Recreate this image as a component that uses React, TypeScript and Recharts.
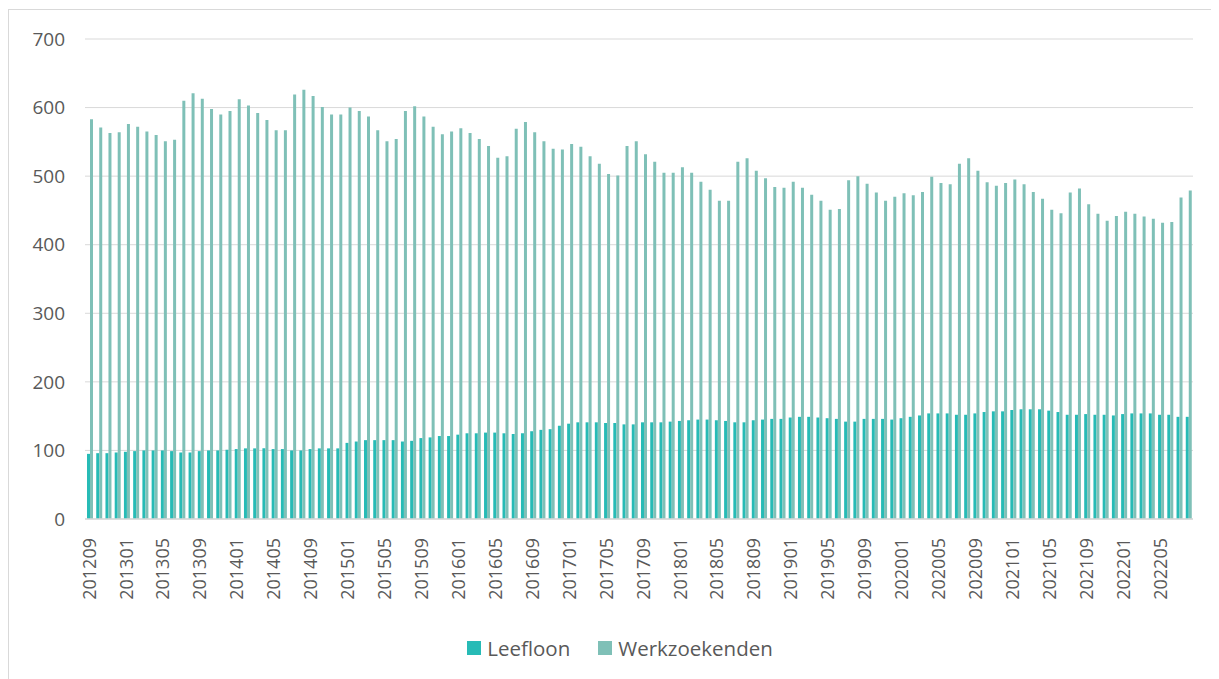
import React from 'react';
import { BarChart, Bar, XAxis, YAxis, CartesianGrid, Legend } from 'recharts';

// maanden 201209 .. 202208
const months: string[] = [];
for (let y = 2012; y <= 2022; y++) {
  for (let m = 1; m <= 12; m++) {
    const key = y * 100 + m;
    if (key >= 201209 && key <= 202208) months.push(String(key));
  }
}

const leefloon = [
  95, 96, 96, 97, 98, 99, 100, 100, 100, 99, 97, 97, 99, 100, 100, 101, 102, 103, 103, 103, 102, 102, 100, 100, 102, 103, 103, 103, 111, 113,
  115, 115, 115, 115, 113, 114, 118, 119, 121, 121, 123, 125, 125, 126, 126, 125, 124, 125, 128, 130, 131, 136, 139, 141, 141, 141, 140, 140, 138,
  138, 141, 141, 141, 142, 143, 144, 145, 145, 144, 143, 141, 141, 144, 145, 146, 146, 148, 149, 149, 148, 147, 146, 142, 142, 146, 146, 146, 145, 147,
  149, 151, 154, 154, 154, 152, 152, 154, 156, 157, 157, 159, 160, 160, 160, 158, 156, 152, 152, 153, 152, 152, 151, 153, 154, 154, 154, 152, 152, 149, 149,
];

const werkzoekenden = [
  583, 571, 563, 564, 576, 572, 565, 560, 551, 553, 610, 621, 613, 598, 590, 595, 612, 603, 592, 582, 567, 567, 619, 626, 617, 601, 590, 590, 600, 595,
  587, 567, 551, 554, 595, 602, 587, 572, 561, 565, 570, 563, 554, 544, 527, 529, 569, 579, 564, 551, 540, 539, 547, 543, 529, 518, 503, 501, 544,
  551, 532, 521, 505, 505, 513, 505, 492, 480, 464, 464, 521, 526, 508, 497, 484, 483, 492, 483, 473, 464, 451, 452, 494, 500, 489, 476, 464, 470,
  475, 472, 477, 499, 490, 488, 518, 526, 508, 491, 486, 490, 495, 488, 477, 467, 451, 446, 476, 482, 459, 445, 435, 442, 448, 445, 441, 438, 432, 433, 469, 479,
];

const yTicks = [0, 100, 200, 300, 400, 500, 600, 700];

const data = months.map((m, i) => ({ maand: m, Leefloon: leefloon[i], Werkzoekenden: werkzoekenden[i] }));

const FONT = '"Open Sans", Lato, sans-serif';
const TEXT = '#595959';
const C_LEEF = '#27bbb6';
const C_WERK = '#7fc0b7';

const MonthTick = (props: any) => {
  const { x, y, payload } = props;
  return (
    <text
      transform={`translate(${x + 6},${y + 11}) rotate(-90)`}
      textAnchor="end"
      fill={TEXT}
      fontSize={18}
      fontFamily={FONT}
    >
      {payload.value}
    </text>
  );
};

const LegendContent = () => (
  <div style={{ display: 'flex', justifyContent: 'center', fontFamily: FONT, fontSize: 20.5, color: TEXT }}>
    {[
      ['Leefloon', C_LEEF],
      ['Werkzoekenden', C_WERK],
    ].map(([name, c], i) => (
      <div key={name} style={{ display: 'flex', alignItems: 'center', marginRight: i === 0 ? 28 : 0 }}>
        <span style={{ width: 14, height: 14, background: c, display: 'inline-block', marginRight: 6 }} />
        <span>{name}</span>
      </div>
    ))}
  </div>
);

export default function App() {
  return (
    <div
      style={{
        width: 1211,
        height: 671,
        borderTop: '1px solid #d9d9d9',
        borderLeft: '1px solid #d9d9d9',
        boxSizing: 'border-box',
        marginTop: 1,
      }}
    >
      <BarChart
        width={1210}
        height={670}
        data={data}
        margin={{ top: 29, right: 26, bottom: 80, left: 0 }}
        barGap={0}
        barSize={3}
      >
        <CartesianGrid vertical={false} stroke="#d9d9d9" />
        <XAxis
          dataKey="maand"
          interval={3}
          tick={<MonthTick />}
          tickLine={false}
          axisLine={{ stroke: '#d9d9d9', strokeWidth: 1.5 }}
          height={81}
        />
        <YAxis
          domain={[0, 700]}
          ticks={yTicks}
          width={76}
          tickLine={false}
          axisLine={false}
          tickMargin={14}
          tick={{ fill: TEXT, fontSize: 19, fontFamily: FONT }}
        />
        <Legend verticalAlign="middle" content={<LegendContent />} wrapperStyle={{ top: 624, left: 19 }} />
        <Bar dataKey="Leefloon" fill={C_LEEF} isAnimationActive={false} />
        <Bar dataKey="Werkzoekenden" fill={C_WERK} isAnimationActive={false} />
      </BarChart>
    </div>
  );
}
